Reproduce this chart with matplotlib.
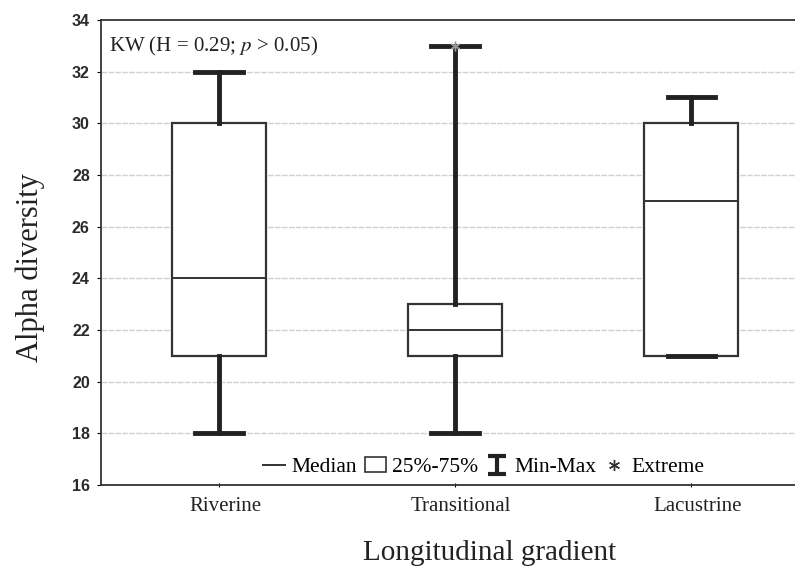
from matplotlib import pyplot as plt
from matplotlib.lines import Line2D
from matplotlib.patches import Patch
from matplotlib.path import Path
from matplotlib.transforms import ScaledTranslation

# 資料
groups = ["Riverine", "Transitional", "Lacustrine"]
mins = [18, 18, 21]
q1s = [21, 21, 21]
medians = [24, 22, 27]
q3s = [30, 23, 30]
maxs = [32, 33, 31]
extremes = [[], [33], []]
yticks = [16, 18, 20, 22, 24, 26, 28, 30, 32, 34]

stats = []
for i in range(len(groups)):
    stats.append({"label": groups[i], "whislo": mins[i], "q1": q1s[i],
                  "med": medians[i], "q3": q3s[i], "whishi": maxs[i],
                  "fliers": []})

fig = plt.figure(figsize=(7.95, 5.66), dpi=100)
ax = fig.add_axes([0.127, 0.143, 0.873, 0.822])

dark = "#333333"
pos = list(range(len(groups)))
ax.bxp(stats, positions=pos, widths=0.4, capwidths=0.2, patch_artist=True,
       showfliers=False,
       boxprops=dict(facecolor="white", edgecolor=dark, linewidth=1.6),
       medianprops=dict(color=dark, linewidth=1.4),
       whiskerprops=dict(color="#222222", linewidth=3.5),
       capprops=dict(color="#222222", linewidth=3.5),
       zorder=3)

for i, ex in enumerate(extremes):
    if ex:
        ax.plot([pos[i]] * len(ex), ex, linestyle="none", marker=(6, 2, 0),
                markersize=7, color="#999999", zorder=5)

ax.set_xlim(-0.5, 2.44)
ax.set_ylim(16, 34)
ax.set_yticks(yticks)
ax.set_yticklabels([str(t) for t in yticks], fontfamily="Liberation Sans",
                   fontweight="bold", fontsize=11.5, color="#2a2a2a")
ax.set_xticks(pos)
ax.set_xticklabels(groups, fontfamily="Liberation Serif", fontsize=15, color="#222222")
ax.tick_params(axis="y", direction="out", length=3, pad=5)
ax.tick_params(axis="x", direction="inout", length=3, pad=7)
shift = ScaledTranslation(6 / 100, 0, fig.dpi_scale_trans)
for lab in ax.get_xticklabels():
    lab.set_transform(lab.get_transform() + shift)

for t in yticks[1:-1]:
    ax.axhline(t, color="#d0d0d0", linewidth=1, linestyle=(0, (4, 1)), zorder=1)

for s in ["left", "bottom", "top"]:
    ax.spines[s].set_color(dark)
    ax.spines[s].set_linewidth(1.3)
ax.spines["right"].set_visible(False)

ax.set_ylabel("Alpha diversity", fontfamily="Liberation Serif", fontsize=22,
              color="#222222")
ax.yaxis.set_label_coords(-0.081, 0.467)
ax.set_xlabel("Longitudinal gradient", fontfamily="Liberation Serif", fontsize=21,
              color="#222222")
ax.xaxis.set_label_coords(0.56, -0.118)

ax.text(0.012, 0.967, r"KW (H = 0.29; $p$ > 0.05)", transform=ax.transAxes,
        fontfamily="Liberation Serif", fontsize=15, color="#222222", va="top",
        math_fontfamily="stix")

# I 形圖例標記
i_marker = Path([(-1, 1), (1, 1), (0, 1), (0, -1), (-1, -1), (1, -1)],
                [Path.MOVETO, Path.LINETO, Path.MOVETO, Path.LINETO, Path.MOVETO, Path.LINETO])
handles = [Line2D([], [], color=dark, linewidth=1.4),
           Patch(facecolor="white", edgecolor=dark, linewidth=1.2),
           Line2D([], [], linestyle="none", marker=i_marker, color="#222222",
                  markersize=13, markeredgewidth=3),
           Line2D([], [], linestyle="none", marker=(6, 2, 0), color=dark, markersize=8)]
labels = ["Median", "25%-75%", "Min-Max", "Extreme"]
ax.legend(handles, labels, loc="lower center", bbox_to_anchor=(0.552, -0.025), ncol=4,
          frameon=False, handlelength=1.0, handletextpad=0.3, columnspacing=0.35,
          prop={"family": "Liberation Serif", "size": 15.5})

fig.savefig("out.png", dpi=100)
